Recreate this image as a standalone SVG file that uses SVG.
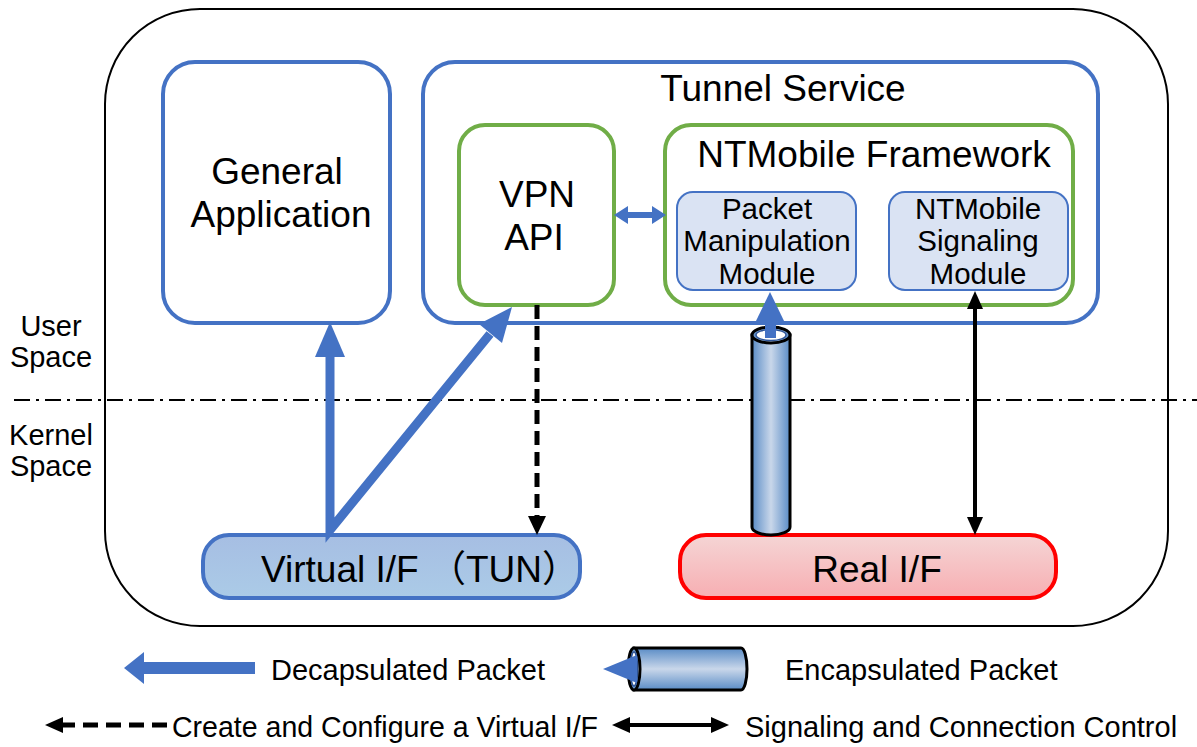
<svg xmlns="http://www.w3.org/2000/svg" width="1197" height="747" viewBox="0 0 1197 747">
  <style>
    text { font-family: "Liberation Sans", Arial, "Noto Sans CJK JP", sans-serif; fill: #000; text-anchor: middle; }
    .t36 { font-size: 37px; }
    .t29 { font-size: 29px; }
    .t27 { font-size: 29.5px; }
    .lg { text-anchor: start; }
    .blue { fill: none; stroke: #4472c4; stroke-width: 4; }
    .green { fill: #fff; stroke: #70ad47; stroke-width: 4; }
    .module { fill: #dae3f3; stroke: #4472c4; stroke-width: 2; }
    .cyl { stroke: #000; stroke-width: 3; }
  </style>
  <defs>
    <linearGradient id="cylV" x1="0" y1="0" x2="1" y2="0">
      <stop offset="0" stop-color="#5a8cc6"/>
      <stop offset="0.5" stop-color="#c9d7ea"/>
      <stop offset="1" stop-color="#5a8cc6"/>
    </linearGradient>
    <linearGradient id="cylH" x1="0" y1="0" x2="0" y2="1">
      <stop offset="0" stop-color="#5a8cc6"/>
      <stop offset="0.5" stop-color="#c9d7ea"/>
      <stop offset="1" stop-color="#5a8cc6"/>
    </linearGradient>
    <linearGradient id="tunFill" x1="0" y1="0" x2="0" y2="1">
      <stop offset="0" stop-color="#a6bee3"/>
      <stop offset="1" stop-color="#abcbe7"/>
    </linearGradient>
    <linearGradient id="realFill" x1="0" y1="0" x2="0" y2="1">
      <stop offset="0" stop-color="#f5d5d5"/>
      <stop offset="1" stop-color="#f7aeb2"/>
    </linearGradient>
  </defs>

  <!-- host boundary -->
  <rect id="host" x="105" y="9" width="1063" height="617" rx="95" ry="95" fill="#fff" stroke="#000" stroke-width="2"/>

  <!-- user / kernel boundary -->
  <line x1="14" y1="400" x2="1197" y2="400" stroke="#000" stroke-width="2" stroke-dasharray="16 6 3 6"/>
  <g id="space-labels">
    <text class="t29" x="51" y="336">User</text>
    <text class="t29" x="51" y="367">Space</text>
    <text class="t29" x="51" y="445">Kernel</text>
    <text class="t29" x="51" y="476">Space</text>
  </g>

  <g id="general-app">
    <rect class="blue" x="163" y="62" width="227" height="261" rx="32"/>
    <text class="t36" x="277" y="184">General</text>
    <text class="t36" x="281" y="227">Application</text>
  </g>

  <g id="tunnel-service">
    <rect class="blue" x="423" y="62" width="675" height="261" rx="32"/>
    <text class="t36" x="783" y="101">Tunnel Service</text>
  </g>

  <g id="vpn-api">
    <rect class="green" x="459" y="125" width="155" height="180" rx="26"/>
    <text class="t36" x="537" y="207">VPN</text>
    <text class="t36" x="534" y="250">API</text>
  </g>

  <g id="ntmobile-framework">
    <rect class="green" x="665" y="125" width="408" height="180" rx="26"/>
    <text class="t36" x="874" y="167">NTMobile Framework</text>
  </g>

  <g id="packet-module">
    <rect class="module" x="677" y="192" width="179" height="98" rx="16"/>
    <text class="t27" x="767" y="219">Packet</text>
    <text class="t27" x="767" y="251">Manipulation</text>
    <text class="t27" x="767" y="284">Module</text>
  </g>

  <g id="signaling-module">
    <rect class="module" x="889" y="192" width="179" height="98" rx="16"/>
    <text class="t27" x="978" y="219">NTMobile</text>
    <text class="t27" x="978" y="251">Signaling</text>
    <text class="t27" x="978" y="284">Module</text>
  </g>

  <g id="virtual-if">
    <rect x="203" y="535" width="377" height="63" rx="26" fill="url(#tunFill)" stroke="#4472c4" stroke-width="4"/>
    <text class="t36 lg" x="261" y="582">Virtual I/F （TUN）</text>
  </g>

  <g id="real-if">
    <rect x="680" y="535" width="376" height="63" rx="26" fill="url(#realFill)" stroke="#ff0000" stroke-width="4"/>
    <text class="t36" x="877" y="582">Real I/F</text>
  </g>

  <g id="connectors">
    <!-- decapsulated packets from the TUN interface -->
    <path d="M330 356 L330 530 L490 334" fill="none" stroke="#4472c4" stroke-width="9" stroke-linejoin="miter"/>
    <polygon points="330,322 345,357 315,357" fill="#4472c4"/>
    <polygon points="512,307 502,343 479,324" fill="#4472c4"/>

    <!-- VPN API <-> framework -->
    <line x1="624" y1="215" x2="656" y2="215" stroke="#4472c4" stroke-width="6"/>
    <polygon points="614,215 628,206 628,224" fill="#4472c4"/>
    <polygon points="666,215 652,206 652,224" fill="#4472c4"/>

    <!-- create / configure virtual interface -->
    <line x1="537" y1="305" x2="537" y2="518" stroke="#000" stroke-width="5" stroke-dasharray="14 7"/>
    <polygon points="537,535 528,516 546,516" fill="#000"/>

    <!-- encapsulated packets (tunnel) -->
    <rect x="765" y="522" width="11" height="14" fill="#4472c4"/>
    <path class="cyl" d="M752 335 L752 527 A19 8 0 0 0 790 527 L790 335 Z" fill="url(#cylV)"/>
    <ellipse class="cyl" cx="771" cy="335" rx="19" ry="8" fill="url(#cylV)"/>
    <ellipse cx="771" cy="335" rx="15" ry="5.5" fill="#fff" stroke="#2f5597" stroke-width="1.5"/>
    <rect x="765" y="318" width="11" height="20" fill="#4472c4"/>
    <polygon points="770,292 785,323 755,323" fill="#4472c4"/>

    <!-- signaling and connection control -->
    <line x1="975" y1="305" x2="975" y2="520" stroke="#000" stroke-width="4"/>
    <polygon points="975,291 983,309 967,309" fill="#000"/>
    <polygon points="975,535 983,517 967,517" fill="#000"/>
  </g>

  <g id="legend">
    <!-- decapsulated packet -->
    <rect x="138" y="662" width="117" height="12" fill="#4472c4"/>
    <polygon points="124,668 144,652 144,684" fill="#4472c4"/>
    <text class="t29 lg" x="271" y="680">Decapsulated Packet</text>

    <!-- encapsulated packet -->
    <path class="cyl" d="M634 648 L741 648 A6 21 0 0 1 741 690 L634 690 Z" fill="url(#cylH)"/>
    <ellipse class="cyl" cx="634" cy="669" rx="6" ry="21" fill="url(#cylH)"/>
    <ellipse cx="634" cy="669" rx="3.5" ry="17" fill="#fff" stroke="#2f5597" stroke-width="1.5"/>
    <polygon points="603,669 637,655 637,683" fill="#4472c4"/>
    <text class="t29 lg" x="785" y="680">Encapsulated Packet</text>

    <!-- create and configure -->
    <line x1="60" y1="725" x2="172" y2="725" stroke="#000" stroke-width="5" stroke-dasharray="15 8"/>
    <polygon points="45,725 63,717 63,733" fill="#000"/>
    <text class="t29 lg" x="172" y="737" textLength="426" lengthAdjust="spacingAndGlyphs">Create and Configure a Virtual I/F</text>

    <!-- signaling -->
    <line x1="625" y1="725" x2="716" y2="725" stroke="#000" stroke-width="4"/>
    <polygon points="612,725 630,717 630,733" fill="#000"/>
    <polygon points="729,725 711,717 711,733" fill="#000"/>
    <text class="t29 lg" x="745" y="737">Signaling and Connection Control</text>
  </g>
</svg>
